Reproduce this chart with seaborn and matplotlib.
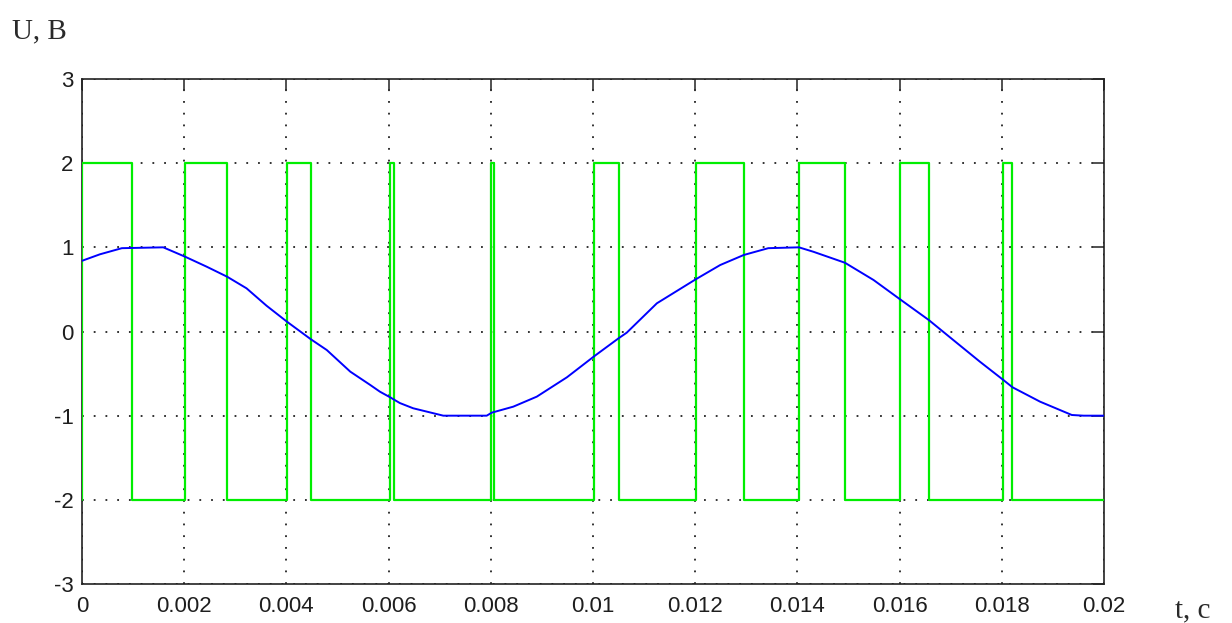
import matplotlib
matplotlib.use("Agg")
import matplotlib.pyplot as plt
import seaborn as sns
import pandas as pd

# ---- data ----
sine_t = [0, 0.00035, 0.00078, 0.00159, 0.00202, 0.00244, 0.00284, 0.00322,
          0.00361, 0.00401, 0.00448, 0.00479, 0.00525, 0.00564, 0.00583,
          0.00603, 0.00622, 0.00648, 0.00707, 0.00792, 0.00802, 0.00844,
          0.0089, 0.00949, 0.01003, 0.0105, 0.01066, 0.01125, 0.01201,
          0.01249, 0.01295, 0.01343, 0.01403, 0.01431, 0.01493, 0.01549,
          0.01601, 0.01657, 0.01705, 0.01757, 0.01803, 0.01821, 0.01875,
          0.01937, 0.0196, 0.02]
sine_u = [0.84, 0.917, 0.99, 1.0, 0.888, 0.77, 0.651, 0.513,
          0.307, 0.117, -0.093, -0.22, -0.477, -0.635, -0.715,
          -0.782, -0.85, -0.912, -1.0, -1.0, -0.964, -0.893,
          -0.774, -0.544, -0.291, -0.081, -0.014, 0.335, 0.62,
          0.79, 0.909, 0.99, 1.0, 0.948, 0.817, 0.612,
          0.382, 0.137, -0.101, -0.358, -0.576, -0.663, -0.834,
          -0.992, -1.0, -1.0]

pwm_t = [0, 0, 0.000985, 0.00202, 0.002838, 0.004005, 0.004475, 0.006034,
         0.006112, 0.00800, 0.00806, 0.010026, 0.010503, 0.01201, 0.012949,
         0.01403, 0.014932, 0.016008, 0.01657, 0.01803, 0.018206, 0.02]
pwm_u = [-2, 2, -2, 2, -2, 2, -2, 2,
         -2, 2, -2, 2, -2, 2, -2,
         2, -2, 2, -2, 2, -2, -2]

xticks = [0, 0.002, 0.004, 0.006, 0.008, 0.01, 0.012, 0.014, 0.016, 0.018, 0.02]
xtick_labels = ["0", "0.002", "0.004", "0.006", "0.008", "0.01", "0.012",
                "0.014", "0.016", "0.018", "0.02"]
yticks = [-3, -2, -1, 0, 1, 2, 3]
ytick_labels = ["-3", "-2", "-1", "0", "1", "2", "3"]

# ---- plot ----
sns.set_style("white")
plt.rcParams["font.family"] = ["Liberation Sans", "DejaVu Sans"]

fig = plt.figure(figsize=(12.32, 6.23), dpi=100)
ax = fig.add_axes([82 / 1232, 1 - 584 / 623, (1104 - 82) / 1232, (584 - 79) / 623])

sine_df = pd.DataFrame({"t": sine_t, "u": sine_u})
pwm_df = pd.DataFrame({"t": pwm_t, "u": pwm_u})

sns.lineplot(data=pwm_df, x="t", y="u", ax=ax, sort=False, estimator=None,
             color="#00ee00", lw=1.6, drawstyle="steps-post", zorder=3)
sns.lineplot(data=sine_df, x="t", y="u", ax=ax, sort=False, estimator=None,
             color="#0000ff", lw=1.4, zorder=4)

ax.set_xlim(0, 0.02)
ax.set_ylim(-3, 3)
ax.set_xticks(xticks)
ax.set_xticklabels(xtick_labels)
ax.set_yticks(yticks)
ax.set_yticklabels(ytick_labels)
ax.set_xlabel("")
ax.set_ylabel("")

ax.grid(True, color="#222222", linestyle=(0, (1, 5.5)), linewidth=1.3)
ax.set_axisbelow(True)
ax.tick_params(axis="both", direction="in", length=8, width=1.1, color="#222222",
               labelsize=16, labelcolor="#1e1e1e", top=True, right=True)
ax.tick_params(axis="x", pad=9)
ax.tick_params(axis="y", pad=6)
for s in ax.spines.values():
    s.set_visible(True)
    s.set_color("#222222")
    s.set_linewidth(1.2)

fig.text(12 / 1232, 1 - 38 / 623, "U, B", family=["Liberation Serif", "DejaVu Serif"],
         fontsize=21, color="#2a2a2a", va="baseline", ha="left")
fig.text(1175 / 1232, 1 - 617 / 623, "t, c", family=["Liberation Serif", "DejaVu Serif"],
         fontsize=21, color="#2a2a2a", va="baseline", ha="left")

fig.savefig("out.png", dpi=100)
